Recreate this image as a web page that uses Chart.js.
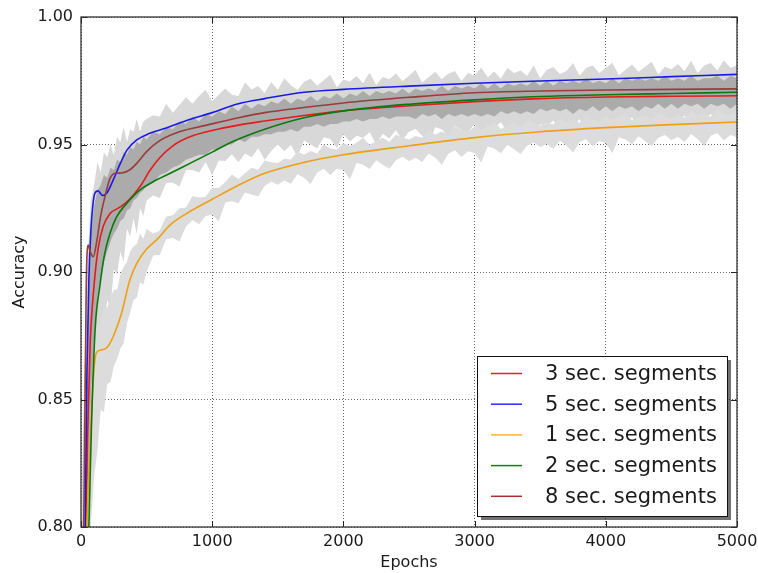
<!DOCTYPE html>
<html>
<head>
<meta charset="utf-8">
<script src="https://cdn.jsdelivr.net/npm/chart.js@4.4.1/dist/chart.umd.min.js"></script>
<style>
  html, body { margin: 0; padding: 0; background: #fff; }
  #wrap { width: 758px; height: 573px; }
</style>
</head>
<body>
<div id="wrap"><canvas id="accChart" width="758" height="573"></canvas></div>
<script>
// ---- tick labels ----
const X_TICKS = [0, 1000, 2000, 3000, 4000, 5000];
const Y_TICKS = [0.80, 0.85, 0.90, 0.95, 1.00];

// ---- smoothed curves (epoch, accuracy) ----
const EP_3 = [0, 30, 50, 70, 100, 130, 170, 220, 300, 370, 450, 525, 600, 700, 830, 1000, 1200, 1400, 1700, 2000, 2500, 3000, 3500, 4000, 4500, 5000];
const ACC_3 = [0.70, 0.78, 0.835, 0.872, 0.895, 0.909, 0.918, 0.9228, 0.9255, 0.9285, 0.9335, 0.9398, 0.9448, 0.9495, 0.953, 0.9555, 0.9576, 0.9592, 0.9614, 0.9632, 0.9652, 0.9668, 0.968, 0.9686, 0.9689, 0.9691];

const EP_5 = [0, 30, 45, 60, 75, 90, 105, 130, 165, 200, 245, 300, 350, 425, 525, 650, 800, 1000, 1200, 1400, 1700, 2000, 2500, 3000, 3500, 4000, 4500, 5000];
const ACC_5 = [0.70, 0.79, 0.86, 0.897, 0.916, 0.926, 0.9308, 0.9318, 0.930, 0.9312, 0.936, 0.9426, 0.9478, 0.9518, 0.9544, 0.9565, 0.9593, 0.9625, 0.966, 0.968, 0.9705, 0.9716, 0.9729, 0.974, 0.9749, 0.9757, 0.9766, 0.9775];

const EP_1 = [0, 45, 80, 107, 130, 160, 200, 250, 310, 370, 425, 500, 580, 680, 800, 1000, 1200, 1400, 1700, 2000, 2500, 3000, 3500, 4000, 4500, 5000];
const ACC_1 = [0.70, 0.80, 0.845, 0.866, 0.869, 0.8695, 0.8705, 0.8752, 0.884, 0.8965, 0.9034, 0.909, 0.9128, 0.9185, 0.9228, 0.9285, 0.934, 0.9387, 0.943, 0.946, 0.9495, 0.9527, 0.955, 0.9566, 0.9578, 0.9588];

const EP_2 = [0, 60, 80, 107, 145, 180, 220, 270, 350, 450, 550, 680, 830, 1000, 1150, 1400, 1700, 2000, 2500, 3000, 3500, 4000, 4500, 5000];
const ACC_2 = [0.70, 0.80, 0.84, 0.877, 0.895, 0.907, 0.915, 0.9215, 0.927, 0.9322, 0.9354, 0.9387, 0.9426, 0.947, 0.951, 0.956, 0.9605, 0.9632, 0.9658, 0.9675, 0.9688, 0.9695, 0.970, 0.9705];

const EP_8 = [0, 25, 40, 55, 70, 94, 120, 150, 180, 220, 260, 310, 370, 425, 500, 600, 750, 950, 1200, 1400, 1700, 2000, 2500, 3000, 3500, 4000, 4500, 5000];
const ACC_8 = [0.70, 0.82, 0.895, 0.9106, 0.908, 0.906, 0.912, 0.922, 0.929, 0.9365, 0.9387, 0.9388, 0.940, 0.9426, 0.9472, 0.9515, 0.955, 0.9575, 0.9605, 0.9625, 0.9645, 0.9663, 0.9685, 0.9703, 0.971, 0.9714, 0.9716, 0.9718];

// ---- raw (noisy) runs, given as the gray envelope they cover ----
const NOISE_EPOCHS = [
  0, 25, 50, 75, 100, 125, 150, 175, 200, 225, 250, 275, 300, 325, 350, 375, 400, 425, 450, 475, 500,
  550, 600, 650, 700, 750, 800, 850, 900, 950, 1000,
  1050, 1100, 1150, 1200, 1250, 1300, 1350, 1400, 1450, 1500,
  1550, 1600, 1650, 1700, 1750, 1800, 1850, 1900, 1950, 2000,
  2050, 2100, 2150, 2200, 2250, 2300, 2350, 2400, 2450, 2500,
  2550, 2600, 2650, 2700, 2750, 2800, 2850, 2900, 2950, 3000,
  3050, 3100, 3150, 3200, 3250, 3300, 3350, 3400, 3450, 3500,
  3550, 3600, 3650, 3700, 3750, 3800, 3850, 3900, 3950, 4000,
  4050, 4100, 4150, 4200, 4250, 4300, 4350, 4400, 4450, 4500,
  4550, 4600, 4650, 4700, 4750, 4800, 4850, 4900, 4950, 5000
];
const UPPER_HIGH = [
  0.80, 0.86, 0.905, 0.928, 0.934, 0.943, 0.939, 0.947, 0.945, 0.950, 0.946, 0.953, 0.951, 0.957, 0.951, 0.956, 0.955, 0.960, 0.955, 0.959, 0.960,
  0.9615, 0.961, 0.966, 0.9625, 0.9655, 0.9685, 0.966, 0.969, 0.9715, 0.967,
  0.9695, 0.972, 0.9695, 0.969, 0.9743, 0.9716, 0.9729, 0.9702, 0.9745, 0.9715,
  0.976, 0.9732, 0.9714, 0.9746, 0.9758, 0.973, 0.9752, 0.9774, 0.9725, 0.9755,
  0.9747, 0.9769, 0.974, 0.9782, 0.9733, 0.9765, 0.9756, 0.9778, 0.9749, 0.977,
  0.9792, 0.9743, 0.9764, 0.9785, 0.9756, 0.9777, 0.9788, 0.9749, 0.978, 0.977,
  0.9802, 0.9764, 0.9786, 0.9758, 0.980, 0.978, 0.979, 0.977, 0.981, 0.976,
  0.9792, 0.9804, 0.9776, 0.9788, 0.982, 0.977, 0.980, 0.981, 0.978, 0.980,
  0.9821, 0.9772, 0.9793, 0.9814, 0.9785, 0.9805, 0.9825, 0.9775, 0.9805, 0.9795,
  0.9816, 0.9787, 0.9828, 0.9779, 0.981, 0.982, 0.979, 0.983, 0.980, 0.981
];
const UPPER_LOW = [
  0.76, 0.78, 0.80, 0.82, 0.843, 0.86, 0.871, 0.878, 0.889, 0.886, 0.901, 0.899, 0.908, 0.904, 0.917, 0.914, 0.921, 0.915, 0.925, 0.922, 0.928,
  0.930, 0.929, 0.935, 0.935, 0.9335, 0.940, 0.940, 0.939, 0.943, 0.938,
  0.9437, 0.9435, 0.9462, 0.943, 0.9465, 0.945, 0.9485, 0.944, 0.9475, 0.950,
  0.9474, 0.9498, 0.9452, 0.9516, 0.950, 0.9484, 0.9528, 0.9522, 0.9486, 0.954,
  0.9512, 0.9534, 0.9526, 0.9548, 0.950, 0.9542, 0.9524, 0.9556, 0.9518, 0.955,
  0.9562, 0.9534, 0.9506, 0.9568, 0.956, 0.9532, 0.9574, 0.9556, 0.9548, 0.958,
  0.9532, 0.9574, 0.9566, 0.9588, 0.955, 0.958, 0.956, 0.959, 0.953, 0.958,
  0.9572, 0.9594, 0.9556, 0.9588, 0.957, 0.960, 0.955, 0.959, 0.958, 0.960,
  0.9562, 0.9594, 0.9576, 0.9608, 0.955, 0.960, 0.959, 0.961, 0.957, 0.960,
  0.9582, 0.9614, 0.9566, 0.9608, 0.960, 0.962, 0.958, 0.961, 0.955, 0.961
];
const CORE_HIGH = [
  0.78, 0.82, 0.88, 0.915, 0.926, 0.932, 0.934, 0.938, 0.937, 0.941, 0.940, 0.944, 0.943, 0.947, 0.946, 0.949, 0.948, 0.951, 0.950, 0.953, 0.952,
  0.955, 0.954, 0.957, 0.956, 0.959, 0.958, 0.961, 0.959, 0.962, 0.961,
  0.963, 0.962, 0.965, 0.963, 0.966, 0.964, 0.966, 0.965, 0.967, 0.966,
  0.968, 0.966, 0.968, 0.967, 0.969, 0.967, 0.969, 0.968, 0.970, 0.968,
  0.970, 0.969, 0.971, 0.969, 0.971, 0.970, 0.971, 0.970, 0.972, 0.970,
  0.972, 0.971, 0.972, 0.971, 0.973, 0.971, 0.973, 0.972, 0.973, 0.972,
  0.974, 0.972, 0.974, 0.972, 0.974, 0.973, 0.974, 0.973, 0.975, 0.973,
  0.975, 0.973, 0.975, 0.974, 0.975, 0.974, 0.976, 0.974, 0.975, 0.974,
  0.976, 0.974, 0.976, 0.975, 0.976, 0.975, 0.976, 0.975, 0.977, 0.975,
  0.976, 0.975, 0.977, 0.975, 0.976, 0.976, 0.977, 0.975, 0.977, 0.976
];
const CORE_LOW = [
  0.76, 0.78, 0.81, 0.85, 0.875, 0.89, 0.898, 0.904, 0.908, 0.912, 0.915, 0.917, 0.920, 0.921, 0.924, 0.925, 0.928, 0.929, 0.931, 0.932, 0.934,
  0.935, 0.938, 0.939, 0.941, 0.942, 0.944, 0.945, 0.946, 0.946, 0.948,
  0.948, 0.950, 0.950, 0.952, 0.951, 0.953, 0.953, 0.954, 0.954, 0.955,
  0.955, 0.956, 0.955, 0.957, 0.957, 0.958, 0.957, 0.958, 0.958, 0.959,
  0.959, 0.960, 0.959, 0.960, 0.960, 0.961, 0.960, 0.961, 0.961, 0.961,
  0.960, 0.962, 0.961, 0.962, 0.960, 0.962, 0.961, 0.962, 0.961, 0.962,
  0.961, 0.962, 0.961, 0.963, 0.962, 0.963, 0.962, 0.963, 0.962, 0.964,
  0.963, 0.964, 0.963, 0.964, 0.962, 0.964, 0.963, 0.965, 0.963, 0.965,
  0.963, 0.965, 0.964, 0.965, 0.963, 0.965, 0.964, 0.966, 0.964, 0.966,
  0.964, 0.966, 0.965, 0.966, 0.964, 0.966, 0.965, 0.966, 0.964, 0.966
];
const ONE_SEC_HIGH = [
  0.76, 0.79, 0.83, 0.856, 0.873, 0.879, 0.881, 0.886, 0.886, 0.890, 0.893, 0.893, 0.899, 0.902, 0.904, 0.908, 0.910, 0.911, 0.915, 0.913, 0.917,
  0.915, 0.9163, 0.9218, 0.9223, 0.925, 0.9253, 0.9298, 0.9292, 0.9295, 0.933,
  0.9329, 0.9353, 0.9382, 0.9365, 0.9387, 0.9409, 0.9401, 0.9437, 0.943, 0.9427,
  0.9444, 0.9441, 0.9473, 0.946, 0.9475, 0.9465, 0.950, 0.9485, 0.948, 0.9505,
  0.9494, 0.9507, 0.9526, 0.9499, 0.9513, 0.9526, 0.951, 0.9538, 0.9527, 0.952,
  0.9533, 0.9526, 0.9555, 0.9538, 0.9551, 0.9539, 0.9572, 0.9556, 0.9549, 0.9572,
  0.9559, 0.9572, 0.9589, 0.9561, 0.9574, 0.9586, 0.9568, 0.9595, 0.9583, 0.9575,
  0.9587, 0.9578, 0.9605, 0.9587, 0.9598, 0.9585, 0.9616, 0.9598, 0.9589, 0.9611,
  0.9597, 0.9608, 0.9625, 0.9596, 0.9607, 0.9618, 0.9599, 0.9626, 0.9612, 0.9603,
  0.9614, 0.9605, 0.9631, 0.9612, 0.9623, 0.9609, 0.964, 0.9621, 0.9612, 0.9633
];
const ONE_SEC_LOW = [
  0.74, 0.76, 0.78, 0.80, 0.82, 0.83, 0.846, 0.845, 0.856, 0.857, 0.863, 0.866, 0.870, 0.872, 0.880, 0.884, 0.889, 0.890, 0.896, 0.895, 0.900,
  0.9065, 0.9068, 0.9128, 0.9133, 0.912, 0.9178, 0.9203, 0.9187, 0.922, 0.9225,
  0.9199, 0.9273, 0.9277, 0.927, 0.9312, 0.9304, 0.9296, 0.9337, 0.9355, 0.9342,
  0.9359, 0.9346, 0.9383, 0.937, 0.9345, 0.939, 0.9405, 0.938, 0.9405, 0.940,
  0.9364, 0.9427, 0.9421, 0.9404, 0.9438, 0.9421, 0.9405, 0.9438, 0.9452, 0.9435,
  0.9448, 0.9431, 0.9465, 0.9448, 0.9421, 0.9464, 0.9477, 0.9451, 0.9474, 0.9467,
  0.9429, 0.9492, 0.9484, 0.9466, 0.9499, 0.9481, 0.9463, 0.9495, 0.9508, 0.949,
  0.9502, 0.9483, 0.9515, 0.9496, 0.9468, 0.951, 0.9521, 0.9493, 0.9514, 0.9506,
  0.9467, 0.9528, 0.952, 0.9501, 0.9532, 0.9513, 0.9494, 0.9526, 0.9537, 0.9518,
  0.9529, 0.951, 0.9541, 0.9522, 0.9493, 0.9534, 0.9545, 0.9516, 0.9537, 0.9528
];

const pts = (xs, ys) => xs.map((x, i) => ({ x: x, y: ys[i] }));

function band(values, order, fill, color) {
    return {
        data: pts(NOISE_EPOCHS, values),
        borderWidth: 0,
        pointRadius: 0,
        tension: 0,
        fill: fill,
        backgroundColor: color,
        order: order,
        isBand: true
    };
}

function curve(label, xs, ys, color, legendColor, order) {
    return {
        label: label,
        data: pts(xs, ys),
        borderColor: color,
        legendColor: legendColor,
        borderWidth: 1.6,
        pointRadius: 0,
        cubicInterpolationMode: 'monotone',
        fill: false,
        order: order
    };
}

const datasets = [
    band(UPPER_LOW, 40, false, 'transparent'),
    band(UPPER_HIGH, 39, '-1', '#d8d8d8'),
    band(ONE_SEC_LOW, 38, false, 'transparent'),
    band(ONE_SEC_HIGH, 37, '-1', '#dcdcdc'),
    band(CORE_LOW, 36, false, 'transparent'),
    band(CORE_HIGH, 35, '-1', 'rgba(110,110,110,0.42)'),
    curve('3 sec. segments', EP_3, ACC_3, '#e21c1c', '#ff1a1a', 5),
    curve('5 sec. segments', EP_5, ACC_5, '#1a1ae6', '#2a2aff', 4),
    curve('1 sec. segments', EP_1, ACC_1, '#eda012', '#ffb02a', 3),
    curve('2 sec. segments', EP_2, ACC_2, '#0c790c', '#108010', 2),
    curve('8 sec. segments', EP_8, ACC_8, '#983c3c', '#b02c2c', 1)
];

// frame, inward tick marks and the shadowed legend box
const framePlugin = {
    id: 'mplFrame',
    afterDraw(chart) {
        const c = chart.ctx;
        const a = chart.chartArea;
        const sx = chart.scales.x, sy = chart.scales.y;
        c.save();
        c.strokeStyle = '#222';
        c.lineWidth = 1;
        c.beginPath();
        X_TICKS.forEach(v => {
            const px = Math.round(sx.getPixelForValue(v)) + 0.5;
            c.moveTo(px, a.bottom); c.lineTo(px, a.bottom - 6);
            c.moveTo(px, a.top); c.lineTo(px, a.top + 6);
        });
        Y_TICKS.forEach(v => {
            const py = Math.round(sy.getPixelForValue(v)) + 0.5;
            c.moveTo(a.left, py); c.lineTo(a.left + 6, py);
            c.moveTo(a.right, py); c.lineTo(a.right - 6, py);
        });
        c.stroke();
        c.strokeStyle = '#333';
        c.lineWidth = 1.3;
        c.strokeRect(a.left, a.top, a.right - a.left, a.bottom - a.top);

        // legend
        const items = chart.data.datasets.filter(d => !d.isBand);
        const bw = 250, bh = 160;
        const bx = a.right - 10 - bw, by = a.bottom - 11 - bh;
        c.fillStyle = 'rgba(0,0,0,0.55)';
        c.fillRect(bx + 4, by + 4, bw, bh);
        c.fillStyle = '#fff';
        c.fillRect(bx, by, bw, bh);
        c.strokeStyle = '#111';
        c.lineWidth = 1;
        c.strokeRect(bx + 0.5, by + 0.5, bw, bh);
        c.font = '21px "DejaVu Sans", sans-serif';
        c.textBaseline = 'middle';
        c.textAlign = 'left';
        const order = ['3 sec. segments', '5 sec. segments', '1 sec. segments', '2 sec. segments', '8 sec. segments'];
        order.forEach((lab, i) => {
            const d = items.find(it => it.label === lab);
            const ry = by + 17.5 + i * 30.7;
            c.strokeStyle = d.legendColor;
            c.lineWidth = 1.5;
            c.beginPath();
            c.moveTo(bx + 14, ry); c.lineTo(bx + 45, ry);
            c.stroke();
            c.fillStyle = '#1a1a1a';
            c.fillText(lab, bx + 68, ry + 1);
        });
        c.restore();
    }
};

Chart.defaults.font.family = "'DejaVu Sans', sans-serif";
Chart.defaults.color = '#1a1a1a';

const ctx = document.getElementById('accChart').getContext('2d');
new Chart(ctx, {
    type: 'line',
    data: { datasets: datasets },
    options: {
        responsive: false,
        animation: false,
        devicePixelRatio: 1,
        layout: { padding: { top: 17, right: 21, left: 0, bottom: 0 } },
        plugins: {
            legend: { display: false },
            tooltip: { enabled: false }
        },
        scales: {
            x: {
                type: 'linear',
                min: 0,
                max: 5000,
                afterBuildTicks: (s) => { s.ticks = X_TICKS.map(v => ({ value: v })); },
                afterFit: (s) => { s.height = 46; s.paddingRight = 0; s.paddingLeft = 0; },
                ticks: { font: { size: 16 }, padding: 5, maxRotation: 0, color: '#1a1a1a', callback: (v) => String(v) },
                grid: { color: 'rgba(0,0,0,0.6)', lineWidth: 1, drawTicks: false },
                border: { display: false, dash: [1, 2] },
                title: { display: true, text: 'Epochs', font: { size: 16 }, padding: { top: 0, bottom: 1 }, color: '#1a1a1a' }
            },
            y: {
                type: 'linear',
                min: 0.80,
                max: 1.00,
                afterBuildTicks: (s) => { s.ticks = Y_TICKS.map(v => ({ value: v })); },
                afterFit: (s) => { s.width = 81; s.paddingTop = 0; s.paddingBottom = 0; },
                ticks: { font: { size: 16 }, padding: 8, color: '#1a1a1a', callback: (v) => v.toFixed(2) },
                grid: { color: 'rgba(0,0,0,0.6)', lineWidth: 1, drawTicks: false },
                border: { display: false, dash: [1, 2] },
                title: { display: true, text: 'Accuracy', font: { size: 16 }, padding: { top: 10, bottom: 0 }, color: '#1a1a1a' }
            }
        }
    },
    plugins: [framePlugin]
});
</script>
</body>
</html>
